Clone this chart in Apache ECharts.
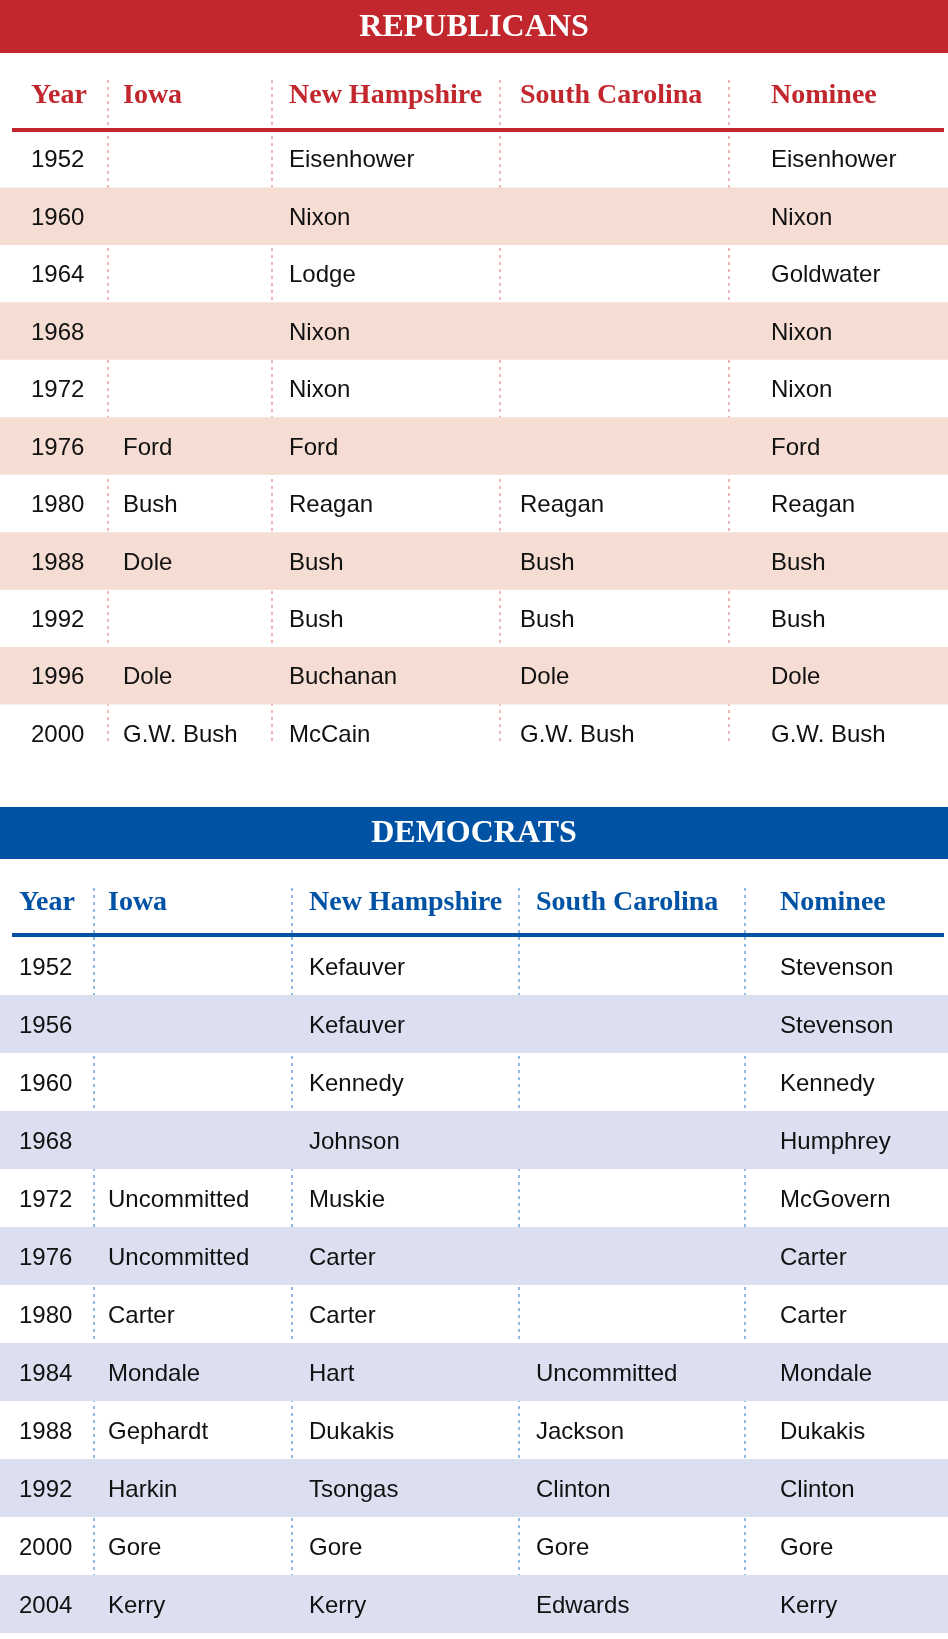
<!DOCTYPE html>
<html><head><meta charset="utf-8">
<script src="https://cdn.jsdelivr.net/npm/echarts@6/dist/echarts.min.js"></script>
<style>html,body{margin:0;padding:0;background:#fff}#c{width:948px;height:1639px}</style>
</head><body><div id="c"></div>
<script>
const columns = ["Year", "Iowa", "New Hampshire", "South Carolina", "Nominee"];

const repYears = ["1952", "1960", "1964", "1968", "1972", "1976", "1980", "1988", "1992", "1996", "2000"];
const repIowa = ["", "", "", "", "", "Ford", "Bush", "Dole", "", "Dole", "G.W. Bush"];
const repNH = ["Eisenhower", "Nixon", "Lodge", "Nixon", "Nixon", "Ford", "Reagan", "Bush", "Bush", "Buchanan", "McCain"];
const repSC = ["", "", "", "", "", "", "Reagan", "Bush", "Bush", "Dole", "G.W. Bush"];
const repNominee = ["Eisenhower", "Nixon", "Goldwater", "Nixon", "Nixon", "Ford", "Reagan", "Bush", "Bush", "Dole", "G.W. Bush"];

const demYears = ["1952", "1956", "1960", "1968", "1972", "1976", "1980", "1984", "1988", "1992", "2000", "2004"];
const demIowa = ["", "", "", "", "Uncommitted", "Uncommitted", "Carter", "Mondale", "Gephardt", "Harkin", "Gore", "Kerry"];
const demNH = ["Kefauver", "Kefauver", "Kennedy", "Johnson", "Muskie", "Carter", "Carter", "Hart", "Dukakis", "Tsongas", "Gore", "Kerry"];
const demSC = ["", "", "", "", "", "", "", "Uncommitted", "Jackson", "Clinton", "Gore", "Edwards"];
const demNominee = ["Stevenson", "Stevenson", "Kennedy", "Humphrey", "McGovern", "Carter", "Carter", "Mondale", "Dukakis", "Clinton", "Gore", "Kerry"];

const RED = "#c1272d", BLUE = "#0052a5";
const FONT = "Liberation Sans";
const NARROW = "Liberation Sans Narrow";

const repColX = [31, 123, 289, 520, 771];
const repDiv = [108, 272, 500, 729];
const demColX = [19, 108, 309, 536, 780];
const demDiv = [94, 292, 519, 745];

const chart = echarts.init(document.getElementById("c"), null, { renderer: "canvas" });

function rows(years, cols) {
  return years.map((y, i) => [i, y].concat(cols.map(c => c[i])));
}

function tableSeries(idx, data, colX) {
  return {
    type: "custom", xAxisIndex: idx, yAxisIndex: idx, silent: true,
    data: data,
    encode: { y: 0 },
    renderItem: (params, api) => {
      const children = [];
      for (let k = 0; k < 5; k++) {
        const p = api.coord([colX[k], api.value(0)]);
        children.push({
          type: "text",
          style: { text: data[params.dataIndex][k + 1], x: p[0], y: p[1] + 2, fill: "#111",
            font: "24px " + FONT, textVerticalAlign: "middle" }
        });
      }
      return { type: "group", children };
    }
  };
}

function dividers(idx, divs, color, y0, y1) {
  return divs.map(x => ({
    type: "line", shape: { x1: x, y1: y0, x2: x, y2: y1 },
    style: { stroke: color, lineWidth: 1.5, lineDash: [3, 4] }
  }));
}

function header(top, h, color, title, colY, lineY, colX, tcolor) {
  const els = [
    { type: "rect", shape: { x: 0, y: top, width: 948, height: h }, style: { fill: color } },
    { type: "text", style: { text: title, x: 474, y: top + h / 2 + 1, fill: "#fff", font: "bold 32px " + NARROW,
      textAlign: "center", textVerticalAlign: "middle" } },
    { type: "rect", shape: { x: 12, y: lineY - 2, width: 932, height: 4 }, style: { fill: tcolor } }
  ];
  columns.forEach((c, k) => els.push({ type: "text", style: { text: c, x: colX[k], y: colY, fill: tcolor,
    font: "bold 28px " + NARROW, textVerticalAlign: "middle" } }));
  return els;
}

const graphics = []
  .concat(dividers(0, repDiv, "#e7a0a0", 80, 745))
  .concat(dividers(1, demDiv, "#6fa3da", 888, 1633))
  .concat(header(0, 53, RED, "REPUBLICANS", 96, 130, repColX, RED))
  .concat(header(807, 52, BLUE, "DEMOCRATS", 903, 935, demColX, BLUE));

function yAx(idx, n, band) {
  return {
    type: "category", gridIndex: idx, inverse: true, data: [...Array(n).keys()],
    axisLine: { show: false }, axisTick: { show: false }, axisLabel: { show: false },
    splitLine: { show: false },
    splitArea: { show: true, areaStyle: { color: ["rgba(0,0,0,0)", band] } }
  };
}
function xAx(idx) {
  return { type: "value", gridIndex: idx, min: 0, max: 948, show: false };
}

chart.setOption({
  animation: false,
  grid: [
    { left: 0, right: 0, top: 130, height: 632 },
    { left: 0, right: 0, top: 937, height: 696 }
  ],
  xAxis: [xAx(0), xAx(1)],
  yAxis: [yAx(0, repYears.length, "#f5ddd3"), yAx(1, demYears.length, "#dcdff0")],
  series: [
    tableSeries(0, rows(repYears, [repIowa, repNH, repSC, repNominee]), repColX),
    tableSeries(1, rows(demYears, [demIowa, demNH, demSC, demNominee]), demColX)
  ],
  graphic: { elements: graphics.map(g => Object.assign({ z: 0, zlevel: 0 }, g)) }
});
</script></body></html>
